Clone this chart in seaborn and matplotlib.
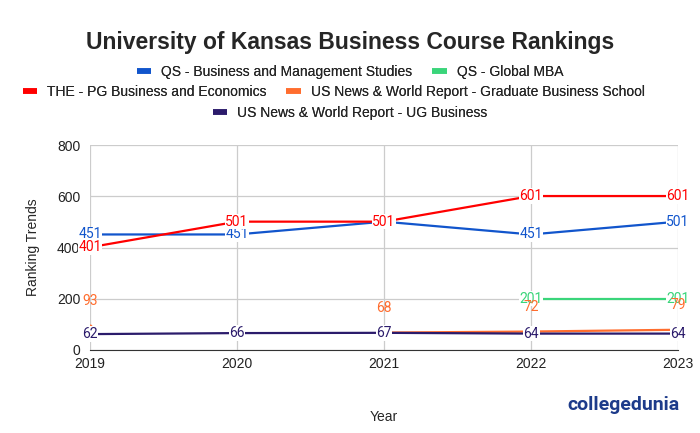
import numpy as np
import pandas as pd
import seaborn as sns
import matplotlib.pyplot as plt
from matplotlib.lines import Line2D

plt.switch_backend('Agg')

# chart data
years = [2019, 2020, 2021, 2022, 2023]
series_names = [
    "QS - Business and Management Studies",
    "QS - Global MBA",
    "THE - PG Business and Economics",
    "US News & World Report - Graduate Business School",
    "US News & World Report - UG Business",
]
qs_bms = [451, 451, 501, 451, 501]
qs_mba = [np.nan, np.nan, np.nan, 201, 201]
the_pg = [401, 501, 501, 601, 601]
usn_grad = [93, np.nan, 68, 72, 79]
usn_ug = [62, 66, 67, 64, 64]

colors = ["#1155cc", "#3ad57a", "#ff0000", "#ff6d2e", "#2b1b6b"]
palette = dict(zip(series_names, colors))

# long table, with a segment id so gaps break the line
rows = []
for name, vals in zip(series_names, [qs_bms, qs_mba, the_pg, usn_grad, usn_ug]):
    seg = 0
    prev_nan = True
    for y, v in zip(years, vals):
        if np.isnan(v):
            prev_nan = True
            continue
        if prev_nan:
            seg += 1
        prev_nan = False
        rows.append({"Year": y, "Rank": v, "Series": name, "seg": f"{name}-{seg}"})
df = pd.DataFrame(rows)
seg_size = df.groupby("seg")["Rank"].transform("size")

sns.set_style("white")
plt.rcParams['font.family'] = ['Liberation Sans', 'DejaVu Sans']

fig = plt.figure(figsize=(7, 4.33), dpi=100)
ax = fig.add_axes([0.1286, 0.1917, 0.84, 0.4733])

sns.lineplot(data=df, x="Year", y="Rank", hue="Series", units="seg", estimator=None,
             palette=palette, hue_order=series_names, linewidth=1.6, legend=False, ax=ax)
# isolated points get a small marker
sns.scatterplot(data=df[seg_size == 1], x="Year", y="Rank", hue="Series", palette=palette,
                s=8, linewidth=0, legend=False, ax=ax)

# value labels
for _, r in df.iterrows():
    c = palette[r["Series"]]
    if r["Series"] == series_names[3]:
        ax.annotate(f"{int(r['Rank'])}", (r["Year"], r["Rank"]), xytext=(0, 18),
                    textcoords="offset points", ha="center", va="center",
                    fontsize=10, color=c, family="Roboto")
    else:
        ax.annotate(f"{int(r['Rank'])}", (r["Year"], r["Rank"]), ha="center", va="center",
                    fontsize=10, color=c, family="Roboto",
                    bbox=dict(boxstyle="square,pad=0.05", fc="white", ec="none"))

ax.set_xlim(2019, 2023)
ax.set_ylim(0, 800)
ax.set_xticks(years)
ax.set_yticks([0, 200, 400, 600, 800])
ax.grid(True, color="#cccccc", linewidth=0.9)
for s in ["top", "right", "left"]:
    ax.spines[s].set_visible(False)
ax.spines["bottom"].set_color("#333333")
ax.tick_params(axis="both", length=0, labelsize=10, colors="#222222")
ax.tick_params(axis="x", pad=5)
ax.tick_params(axis="y", pad=7)
ax.set_xlabel("Year", fontsize=10, labelpad=28)
ax.set_ylabel("Ranking Trends", fontsize=10, labelpad=12)

fig.suptitle("University of Kansas Business Course Rankings", y=0.928,
             fontsize=16.5, fontweight="bold")

# legend rows, each centered
def handle(c):
    return Line2D([0], [0], color=c, lw=4, solid_capstyle="butt")

legend_rows = [([0, 1], 0.5, 0.833), ([2, 3], 0.477, 0.787), ([4], 0.5, 0.739)]
for idx, xpos, ypos in legend_rows:
    leg = fig.legend([handle(colors[i]) for i in idx], [series_names[i] for i in idx],
                     loc="center", bbox_to_anchor=(xpos, ypos), ncol=len(idx),
                     frameon=False, fontsize=10, handlelength=1.05, handletextpad=0.72,
                     columnspacing=1.4, borderpad=0, borderaxespad=0)
    fig.add_artist(leg)

fig.text(0.97, 0.065, "collegedunia", ha="right", va="center",
         fontsize=14, color="#1d3b8a", fontweight="bold", family="Roboto")

fig.savefig("out.png", dpi=100)
plt.close(fig)
